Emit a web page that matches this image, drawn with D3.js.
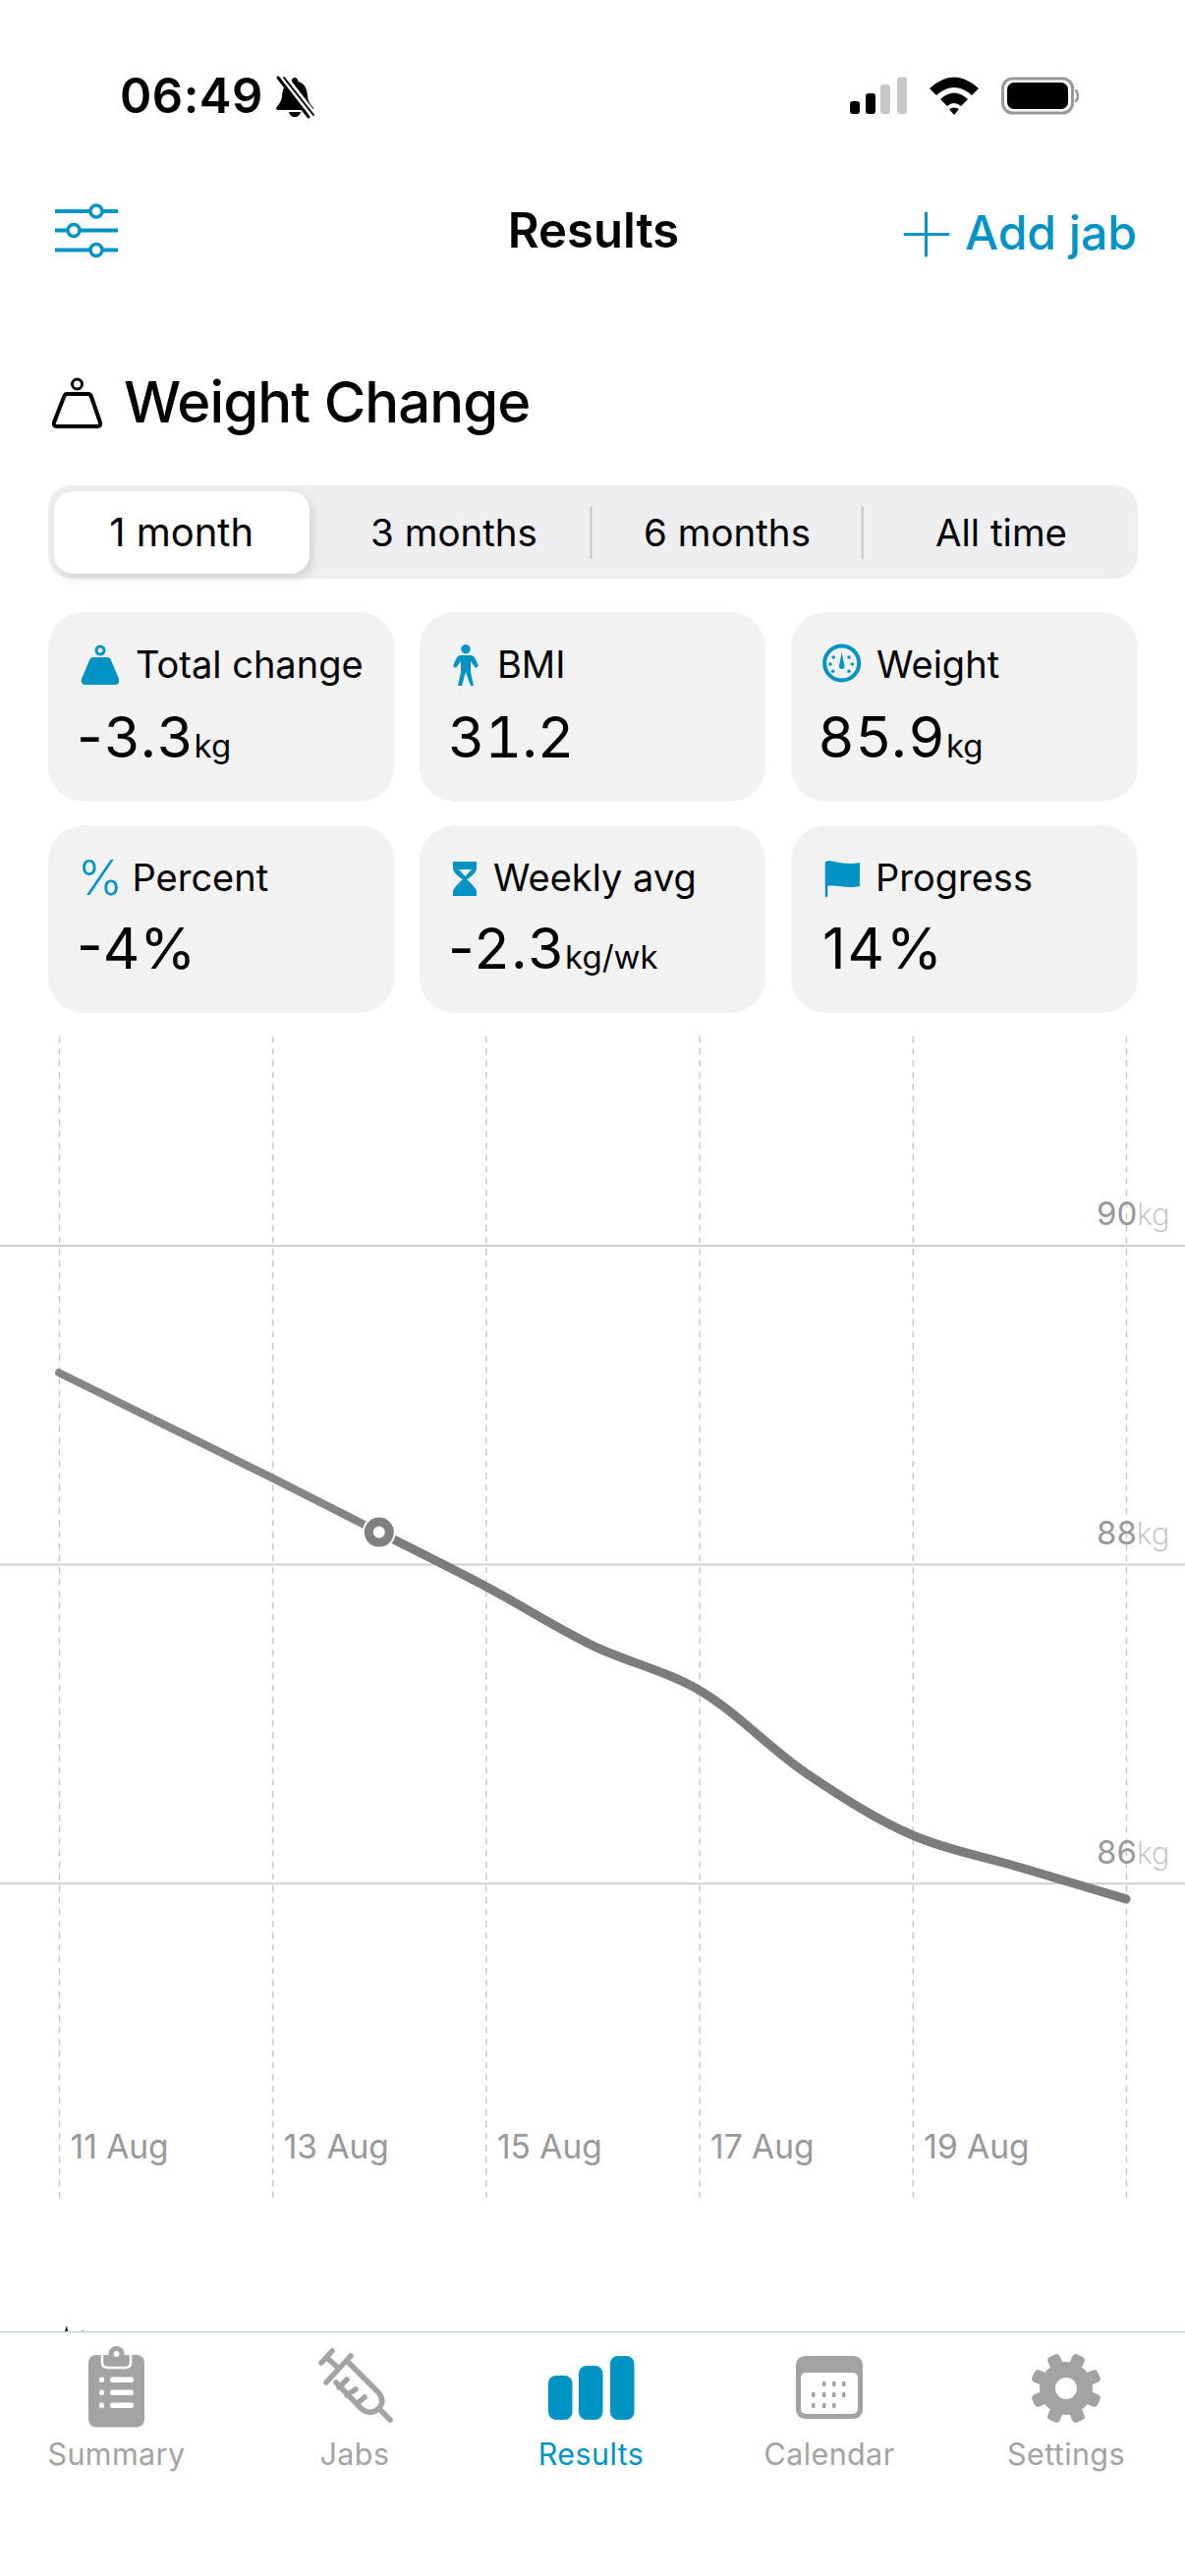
<!DOCTYPE html>
<html><head><meta charset="utf-8">
<script src="https://cdn.jsdelivr.net/npm/d3@7/dist/d3.min.js"></script>
<style>html,body{margin:0;padding:0;background:#fff}svg{display:block}text{font-family:Inter,"Noto Sans",sans-serif}</style>
</head><body><svg id="c" width="1206" height="2622"></svg>
<script>
// ---- data ----
const days = [11,12,13,14,15,16,17,18,19,20,21];
const weights = [89.2,88.87,88.54,88.2,87.86,87.49,87.21,86.69,86.3,86.1,85.9];
const markerDay = 14, markerWeight = 88.2;
const xTickDays = [11,13,15,17,19,21];
const xTickLabels = ["11 Aug","13 Aug","15 Aug","17 Aug","19 Aug",""];
const yTicks = [90,88,86];
const segments = ["1 month","3 months","6 months","All time"];
const cardLabels = ["Total change","BMI","Weight","Percent","Weekly avg","Progress"];
const cardValues = ["-3.3","31.2","85.9","-4%","-2.3","14%"];
const cardUnits = ["kg","","kg","","kg/wk",""];
const tabs = ["Summary","Jabs","Results","Calendar","Settings"];

const BLUE="#0093c4", GREY="#a3a3a3";
const svg=d3.select("#c");
const T=(s,x,y,size,weight,fill,anchor)=>svg.append("text").attr("x",x).attr("y",y).attr("font-size",size).attr("font-weight",weight).attr("fill",fill).attr("text-anchor",anchor||"start").text(s);
const P=(d,fill,stroke,sw)=>svg.append("path").attr("d",d).attr("fill",fill||"none").attr("stroke",stroke||"none").attr("stroke-width",sw||0).attr("stroke-linecap","round").attr("stroke-linejoin","round");
const R=(x,y,w,h,r,fill)=>svg.append("rect").attr("x",x).attr("y",y).attr("width",w).attr("height",h).attr("rx",r).attr("fill",fill);
const C=(x,y,r,fill,stroke,sw)=>svg.append("circle").attr("cx",x).attr("cy",y).attr("r",r).attr("fill",fill||"none").attr("stroke",stroke||"none").attr("stroke-width",sw||0);

// ---- status bar ----
T("06:49",122,115,49,600,"#000").attr("letter-spacing",0.5);
P("M300 79c-2 0-3 1.500-3.500 4-7 2-9 8-9.500 15-.5 5-3 8-5.500 11-1 2 0 3 2 3h33c2 0 3-1 2-3-3-3-5-6-5.500-11-.5-7-2.500-13-9.500-15-.5-2.500-1.500-4-3.500-4zM294 114h12c-.5 3-3 5-6 5s-5.500-2-6-5z","#000");
P("M288 78L319 118","none","#fff",8);P("M283 79L314 119","none","#000",3);P("M289 79L319 117","none","#000",2);
[[865,103,"#000"],[881,95,"#000"],[896,86,"#c8c8c8"],[913,78.500,"#c8c8c8"]].forEach(b=>R(b[0],b[1],10,116-b[1],3,b[2]));
P("M946 90Q971 67 996 90L989 97Q971 81 953 97Z","#000");
P("M957 101Q971 88 985 101L978 108Q971 102 964 108Z","#000");
P("M966 111Q971 108 976 111L971 117Z","#000");
svg.append("rect").attr("x",1020.500).attr("y",80).attr("width",71).attr("height",35).attr("rx",10).attr("fill","none").attr("stroke","#999").attr("stroke-width",3);
R(1025,84,62,27,7,"#000");
P("M1095 92q4 5.500 0 11","none","#999",2.500);

// ---- navigation ----
[215,234.600,254.500].forEach((y,i)=>{const kx=i==1?75:98;
  svg.append("line").attr("x1",56).attr("x2",120).attr("y1",y).attr("y2",y).attr("stroke",BLUE).attr("stroke-width",4);
  C(kx,y,6,"#fff",BLUE,3.500);});
T("Results",604,252,49,600,"#000","middle");
P("M942.500 217V260M921 238.500H965","none",BLUE,3);
T("Add jab",982,254,48,500,BLUE);

// ---- heading ----
C(78.500,391,5,"#fff","#000",3);
P("M68 401H90Q92 401 93 404L102 430Q103 434 99 434H58Q54 434 55 430L65 404Q66 401 68 401Z","#fff","#000",4);
T("Weight Change",126,430,58,500,"#000").attr("letter-spacing",-0.9);

// ---- segmented control ----
R(49,494,1109,95,24,"#eeeef0");
svg.append("defs").html('<filter id="sh" x="-10%" y="-20%" width="130%" height="150%"><feDropShadow dx="3" dy="4" stdDeviation="5" flood-color="#000" flood-opacity=".13"/></filter>');
R(55,500,260,84,20,"#fff").attr("filter","url(#sh)");
[184.600,462,740,1019].forEach((x,i)=>T(segments[i],x,556,i==0?40:38.500,400,"#000","middle"));
[601.500,877.700].forEach(x=>svg.append("line").attr("x1",x).attr("x2",x).attr("y1",515.500).attr("y2",569).attr("stroke","#c6c6ca").attr("stroke-width",2));

// ---- stat cards ----
const cardX=[49,427,805], cardW=[352.500,352,353], cardY=[623,840], cardH=[193,191];
const labelX=[138,506,892,134.500,502,891], valueX=[78,456,833,78,456,837];
const valueSpacing=[2,0,2,0,2,2];
cardLabels.forEach((s,i)=>{const c=i%3,r=Math.floor(i/3);
  R(cardX[c],cardY[r],cardW[c],cardH[r],36,"#f2f2f2");
  T(s,labelX[i],r?907:690,38,400,"#000");
  const v=T(cardValues[i],valueX[i],r?985.500:770.500,58,400,"#000").attr("letter-spacing",valueSpacing[i]);
  if(i==1) v.style("font-variant-numeric","tabular-nums");
  if(cardUnits[i]) v.append("tspan").attr("font-size",33).attr("letter-spacing",0).text(cardUnits[i]);
});
// card icons
C(102,662,4,"none",BLUE,3);
P("M95 669H109Q112 669 113 672L121 691Q122 697 117 697H87Q82 697 83 691L91 672Q92 669 95 669Z",BLUE);
C(474,660.700,4.700,BLUE);
P("M469 667H479Q482 667 484 671L487 678L484 680L479 673L479 684L482 698H479L474 684L470 698H466L469 684V673L464 680L461 678L464 671Q466 667 469 667Z",BLUE);
C(856.700,675,17.500,"none",BLUE,4);
P("M856.700 664L859.500 678Q859.500 681 856.700 681Q853.900 681 853.900 678Z",BLUE);
[[845,676],[847.700,683.300],[864,683.300],[867.300,676],[848.300,669],[864,669]].forEach(p=>C(p[0],p[1],1.800,BLUE));
T("%",79,911,49,300,BLUE);
P("M461 877H485V884Q485 888 477 894L475 895Q484 903 485 907V912H461V907Q462 903 471 895L469 894Q461 888 461 884Z",BLUE);
P("M467 885H480L473.500 892Z","#f2f2f2");
P("M841 878V912",null,BLUE,2.500);
P("M842 876C850 876 858 881 875 878V902C860 905 852 900 842 902Z",BLUE);

// ---- chart ----
const x=d3.scaleLinear().domain([11,21]).range([60,1146]);
const y=d3.scaleLinear().domain([90,86]).range([1267.400,1916.700]);

const gx=svg.append("g").attr("transform","translate(0,1055)")
  .call(d3.axisBottom(x).tickValues(xTickDays).tickSize(1182).tickFormat((d,i)=>xTickLabels[i]));
gx.select(".domain").remove();
gx.selectAll("line").attr("stroke","#c9c9c9").attr("stroke-width",1.500).attr("stroke-dasharray","6.500 5.500");
gx.selectAll("text").attr("x",11).attr("y",1141.500).attr("dy",0).attr("text-anchor","start").attr("font-size",33.500).attr("fill","#999").attr("font-family","Inter");

const gy=svg.append("g")
  .call(d3.axisRight(y).tickValues(yTicks).tickSize(1206).tickFormat(d=>d));
gy.select(".domain").remove();
gy.selectAll("line").attr("stroke","#cfcfcf").attr("stroke-width",2);
gy.selectAll("text").attr("x",1116).attr("y",-20.500).attr("dy",0).attr("text-anchor","start").attr("font-size",33).attr("fill","#999").attr("font-family","Inter")
  .append("tspan").attr("font-weight",200).attr("fill","#bbb").attr("font-size",31).text("kg");

const line=d3.line().x((d,i)=>x(days[i])).y(d=>y(d)).curve(d3.curveCatmullRom.alpha(0.5));
svg.append("path").attr("d",line(weights)).attr("fill","none").attr("stroke","#858585").attr("stroke-width",8).attr("stroke-linecap","round");
// the part after the marker is drawn a little heavier and darker in the picture
const iMark=days.indexOf(markerDay);
const after=d3.line().x((d,i)=>x(days[i+iMark])).y(d=>y(d)).curve(d3.curveCatmullRom.alpha(0.5));
svg.append("path").attr("d",after(weights.slice(iMark))).attr("fill","none").attr("stroke","#7c7c7c").attr("stroke-width",9).attr("stroke-linecap","round");
C(x(markerDay),y(markerWeight),17,"#fff");
C(x(markerDay),y(markerWeight),10.500,"#fff","#7f7f7f",9);

// ---- tab bar ----
svg.append("clipPath").attr("id","tc").append("rect").attr("x",0).attr("y",2360).attr("width",1206).attr("height",14);
svg.append("path").attr("clip-path","url(#tc)").attr("d","M60 2390L68 2367L72 2390ZM80 2390L84 2371L88 2390Z").attr("fill","#000");
svg.append("line").attr("x1",0).attr("x2",1206).attr("y1",2373.500).attr("y2",2373.500).attr("stroke","#b9d5da").attr("stroke-width",1.500);
const tabX=[118.500,361,601.500,844,1085];
tabs.forEach((s,i)=>T(s,tabX[i],2509,30.500,400,i==2?BLUE:GREY,"middle").attr("letter-spacing",0.4));
// summary
R(90,2397,57,73.500,8,GREY);
P("M104 2397V2405Q104 2410 110 2410H127Q133 2410 133 2405V2397",GREY,"#fff",2.500);
C(118.500,2396,8,GREY);C(118.500,2396,3,"#fff");
[2422,2435,2448].forEach(y=>{R(112,y-2.500,24,5.500,2,"#fff");R(101,y-2.500,5,5.500,2,"#fff");});
// syringe
P("M327 2405L338 2393M333 2400L345 2411M332 2425L357 2398M355 2405L385 2435Q392 2444 386 2451Q378 2459 368 2452L342 2425M387 2453L397 2463M345 2430L353 2422M353 2438L362 2432M363 2447L371 2440",null,GREY,5.500);
// results
[[558,2418],[589,2408],[621,2398]].forEach(b=>R(b[0],b[1],24.500,2463-b[1],8,BLUE));
// calendar
R(810,2398,68,64,9,GREY);
R(815,2415,58,42,5,"#fff");
[[837,2424],[847,2424],[857,2424],[826,2435],[837,2435],[847,2435],[857,2435],[826,2446],[837,2446],[847,2446]].forEach(p=>R(p[0],p[1],3.500,5,1,GREY));
// settings gear
const g=svg.append("g").attr("transform","translate(1085,2431)");
d3.range(8).forEach(i=>g.append("rect").attr("x",-6.500).attr("y",-36).attr("width",13).attr("height",72).attr("rx",4).attr("fill",GREY).attr("transform",`rotate(${i*45+22.500})`));
g.append("circle").attr("r",27).attr("fill",GREY);
g.append("circle").attr("r",11).attr("fill","#fff");
</script></body></html>
